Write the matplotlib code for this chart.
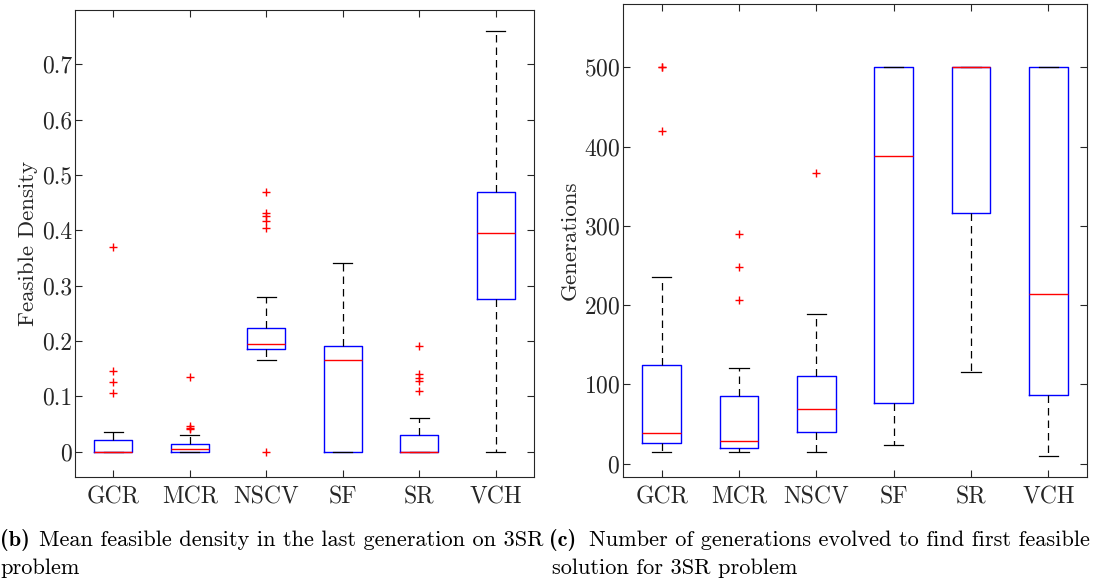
import matplotlib
matplotlib.use('Agg')
import matplotlib.pyplot as plt
from matplotlib.ticker import FuncFormatter

plt.rcParams['font.family'] = ['cmr10', 'DejaVu Serif']
plt.rcParams['axes.formatter.use_mathtext'] = True

methods = ['GCR', 'MCR', 'NSCV', 'SF', 'SR', 'VCH']

# (b) mean feasible density
dens_med = [0.0, 0.005, 0.195, 0.165, 0.0, 0.395]
dens_q1 = [0.0, 0.0, 0.185, 0.0, 0.0, 0.275]
dens_q3 = [0.02, 0.014, 0.224, 0.19, 0.03, 0.47]
dens_lo = [0.0, 0.0, 0.165, 0.0, 0.0, 0.0]
dens_hi = [0.035, 0.03, 0.28, 0.34, 0.06, 0.76]
dens_out = [[0.37, 0.145, 0.125, 0.105],
            [0.135, 0.046, 0.042, 0.04],
            [0.47, 0.432, 0.426, 0.416, 0.404, 0.0],
            [],
            [0.19, 0.14, 0.133, 0.127, 0.11],
            []]

# (c) generations to first feasible solution
gen_med = [39, 28, 69, 388, 500, 214]
gen_q1 = [26, 20, 40, 76, 316, 86]
gen_q3 = [125, 85, 111, 500, 500, 500]
gen_lo = [15, 14, 14, 24, 115, 10]
gen_hi = [236, 121, 189, 500, 500, 500]
gen_out = [[500, 500, 420], [290, 248, 206], [367], [], [], []]


def make_stats(med, q1, q3, lo, hi, out):
    stats = []
    for i in range(len(med)):
        stats.append(dict(med=med[i], q1=q1[i], q3=q3[i], whislo=lo[i],
                          whishi=hi[i], fliers=out[i], label=methods[i]))
    return stats


def draw(ax, stats):
    ax.bxp(stats, widths=0.5, showfliers=True,
           boxprops=dict(color='blue', linewidth=1.0),
           medianprops=dict(color='red', linewidth=1.0),
           whiskerprops=dict(color='black', linestyle=(0, (6, 4)), linewidth=0.9),
           capprops=dict(color='black', linewidth=0.9),
           capwidths=0.25,
           flierprops=dict(marker='+', markeredgecolor='red', markersize=6,
                           markeredgewidth=1.0, linestyle='none'))
    ax.set_xlim(0.5, 6.5)
    ax.tick_params(direction='in', top=True, right=True, labelsize=17,
                   colors='#262626', length=5, width=0.8)
    ax.tick_params(axis='x', pad=7)
    ax.tick_params(axis='y', pad=2)
    for s in ax.spines.values():
        s.set_color('#262626')
        s.set_linewidth(0.8)


fig = plt.figure(figsize=(10.95, 5.83), dpi=100)

ax1 = fig.add_axes([0.0685, 0.1818, 0.4192, 0.801])
draw(ax1, make_stats(dens_med, dens_q1, dens_q3, dens_lo, dens_hi, dens_out))
ax1.set_ylim(-0.046, 0.798)
ax1.set_yticks([0, 0.1, 0.2, 0.3, 0.4, 0.5, 0.6, 0.7])
ax1.yaxis.set_major_formatter(FuncFormatter(lambda v, p: '0' if v == 0 else '%.1f' % v))
ax1.set_ylabel('Feasible Density', fontsize=16.5, color='#262626', labelpad=3)

ax2 = fig.add_axes([0.569, 0.1818, 0.4237, 0.8113])
draw(ax2, make_stats(gen_med, gen_q1, gen_q3, gen_lo, gen_hi, gen_out))
ax2.set_ylim(-17, 580)
ax2.set_yticks([0, 100, 200, 300, 400, 500])
ax2.set_ylabel('Generations', fontsize=16.5, color='#262626', labelpad=3)

# captions
bold = ['cmb10', 'DejaVu Serif']
fs = 16.1
fig.text(0.0, 0.0635, '(b)', fontsize=fs, family=bold, weight='bold', va='baseline')
fig.text(0.036, 0.0635, 'Mean feasible density in the last generation on 3SR',
         fontsize=fs, va='baseline')
fig.text(0.0, 0.0154, 'problem', fontsize=fs, va='baseline')
fig.text(0.5015, 0.0635, '(c)', fontsize=fs, family=bold, weight='bold', va='baseline')
fig.text(0.5375, 0.0635, 'Number of generations evolved to find first feasible',
         fontsize=fs, va='baseline')
fig.text(0.504, 0.0154, 'solution for 3SR problem', fontsize=fs, va='baseline')

fig.savefig('out.png', dpi=100)
